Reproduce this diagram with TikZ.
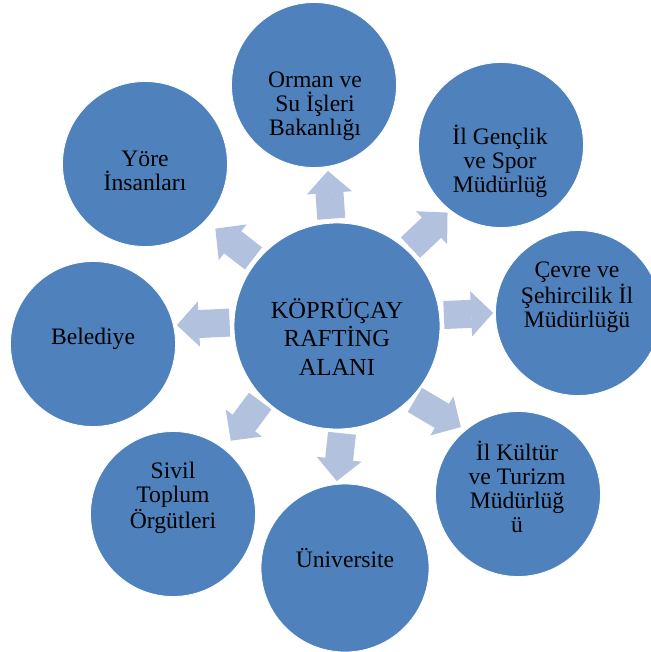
\documentclass[tikz,border=0pt]{standalone}
\usepackage{fontspec}
\setmainfont{Liberation Serif}
\usepackage{tikz}
\usetikzlibrary{arrows.meta,positioning,calc}
\definecolor{bubbleblue}{RGB}{79,129,189}
\definecolor{arrowblue}{RGB}{178,193,221}
\tikzset{
  % kabarcıklar
  bubble/.style={
    circle,
    fill=bubbleblue,
    draw=white,
    line width=0.6pt,
    minimum size=4.125cm,
    inner sep=0pt
  },
  hub/.style={bubble, minimum size=5.15cm},
  % yazılar
  bubbletext/.style={
    align=center,
    inner sep=0pt,
    text=black,
    font=\fontsize{16.8pt}{17.1pt}\selectfont
  },
  hubtext/.style={bubbletext, font=\fontsize{17.4pt}{20.1pt}\selectfont},
  % blok oklar
  flowarr/.style={
    -{Triangle[length=0.55cm, width=1.125cm, line width=1pt, sep=-1.5pt]},
    line width=0.7cm,
    arrowblue,
    shorten <=0.1cm
  },
}

\begin{document}
\begin{tikzpicture}[x=0.025cm, y=-0.025cm]
        \useasboundingbox (0,0) rectangle (651,652);

        % Merkez
        \node[hub] (c) at (337,326) {};
        \node[hubtext] (c-t) at (337,337) {KÖPRÜÇAY\\RAFTİNG\\ALANI};

        % Paydaşlar
        \node[bubble] (orman) at (314,85) {};
        \node[bubble] (genclik) at (501,145) {};
        \node[bubble] (cevre) at (578,313) {};
        \node[bubble] (kultur) at (518,494) {};
        \node[bubble, minimum size=4.2cm] (univ) at (345,568) {};
        \node[bubble] (sivil) at (173,514) {};
        \node[bubble] (belediye) at (93,344) {};
        \node[bubble] (yore) at (145,164) {};

        \node[bubbletext] (orman-t) at (315,106) {Orman ve\\Su İşleri\\Bakanlığı};
        \node[bubbletext] (genclik-t) at (500,161) {İl Gençlik\\ve Spor\\Müdürlüğ};
        \node[bubbletext] (cevre-t) at (577,297) {Çevre ve\\Şehircilik İl\\Müdürlüğü};
        \node[bubbletext] (kultur-t) at (517,487) {İl Kültür\\ve Turizm\\Müdürlüğ\\ü};
        \node[bubbletext] (univ-t) at (345,558) {Üniversite};
        \node[bubbletext] (sivil-t) at (173,498) {Sivil\\Toplum\\Örgütleri};
        \node[bubbletext] (belediye-t) at (93,339) {Belediye};
        \node[bubbletext] (yore-t) at (145,171) {Yöre\\İnsanları};

        % Ok uçları
        \coordinate (orman-a) at (328,173);
        \coordinate (genclik-a) at (446,214);
        \coordinate (cevre-a) at (491,313);
        \coordinate (kultur-a) at (459,426);
        \coordinate (univ-a) at (337,479);
        \coordinate (sivil-a) at (232,439);
        \coordinate (belediye-a) at (179,325);
        \coordinate (yore-a) at (217,230);

        \foreach \ang/\tip in {93.7/orman-a, 47.7/genclik-a, 6.7/cevre-a, -44.8/kultur-a,
            -87.3/univ-a, -136.9/sivil-a, 178.4/belediye-a, 141/yore-a}
          \draw[flowarr] (c.\ang) -- (\tip);
    \end{tikzpicture}
\end{document}
